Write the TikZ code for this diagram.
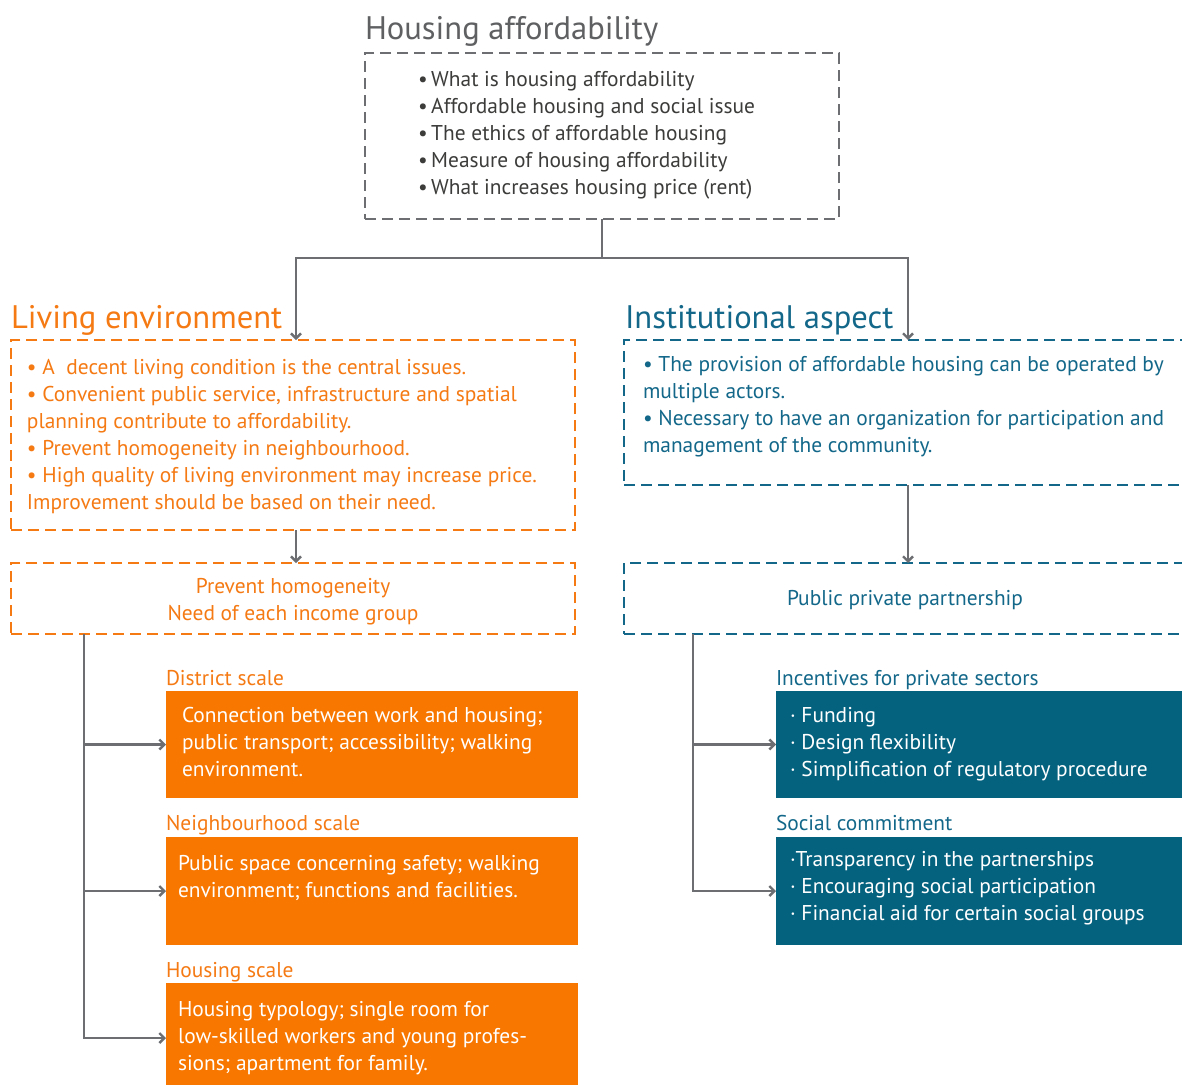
\documentclass[tikz,border=0pt]{standalone}
\usepackage{fontspec}
\setmainfont{PT Sans}
\usetikzlibrary{arrows.meta,positioning}
\definecolor{hagray}{HTML}{5F6062}
\definecolor{hatext}{HTML}{3C3C3B}
\definecolor{lnkgray}{HTML}{6D6E71}
\definecolor{livorange}{HTML}{F57A14}
\definecolor{orfill}{HTML}{F77700}
\definecolor{instteal}{HTML}{13688A}
\definecolor{tefill}{HTML}{05627F}

\begin{document}
\begin{tikzpicture}[x=1pt,y=-1pt,
    every node/.style={inner sep=0pt,outer sep=0pt},
    body/.style={font=\fontsize{21.4}{27}\selectfont,align=left},
    head/.style={font=\fontsize{32.6}{36}\selectfont},
    dbox/.style={draw=#1,line width=2.8pt,dash pattern=on 11pt off 6pt},
    conn/.style={draw=lnkgray,line width=2.4pt},
    tip/.style={conn,-{Straight Barb[length=5pt,width=10pt]}}]
    \clip (0,0) rectangle (1182,1084);
    \fill[white] (0,0) rectangle (1182,1084);

    % base anchors sit on the last line of each block
    \node[head,text=hagray,anchor=base west] (hatitle) at (365,39) {Housing affordability};
    \node[dbox=lnkgray,minimum width=474pt,minimum height=166pt,anchor=north west] (ha) at (365,53) {};
    \node[body,text=hatext,anchor=base west] (hapts) at (418,194) {•\,What is housing affordability\\•\,Affordable housing and social issue\\•\,The ethics of affordable housing\\•\,Measure of housing affordability\\•\,What increases housing price (rent)};

    \node[head,text=livorange,anchor=base west] (letitle) at (11,328) {Living environment};
    \node[dbox=livorange,minimum width=564pt,minimum height=190pt,anchor=north west] (le) at (11,340) {};
    \node[body,text=livorange,anchor=base west] (lepts) at (27,509) {• A\ \ decent living condition is the central issues.\\• Convenient public service, infrastructure and spatial\\planning contribute to affordability.\\• Prevent homogeneity in neighbourhood.\\• High quality of living environment may increase price.\\Improvement should be based on their need.};
    \node[dbox=livorange,minimum width=564pt,minimum height=71pt,anchor=north west] (ph) at (11,563) {};
    \node[body,text=livorange,align=center,anchor=base] (phtext) at (293,620) {Prevent homogeneity\\Need of each income group};

    \node[fill=orfill,minimum width=412pt,minimum height=107pt,anchor=north west] (district) at (166,691) {};
    \node[body,text=livorange,anchor=base west] (districtlbl) at (166,685) {District scale};
    \node[body,text=white,anchor=base west] (districttext) at (182,776) {Connection between work and housing;\\public transport; accessibility; walking\\environment.};
    \node[fill=orfill,minimum width=412pt,minimum height=108pt,anchor=north west] (neigh) at (166,837) {};
    \node[body,text=livorange,anchor=base west] (neighlbl) at (166,830) {Neighbourhood scale};
    \node[body,text=white,anchor=base west] (neightext) at (178,897) {Public space concerning safety; walking\\environment; functions and facilities.};
    \node[fill=orfill,minimum width=412pt,minimum height=110pt,anchor=north west] (housing) at (166,983) {};
    \node[body,text=livorange,anchor=base west] (housinglbl) at (166,977) {Housing scale};
    \node[body,text=white,anchor=base west] (housingtext) at (178,1070) {Housing typology; single room for\\low-skilled workers and young profes-\\sions; apartment for family.};

    \node[head,text=instteal,anchor=base west] (iatitle) at (625,328) {Institutional aspect};
    \node[dbox=instteal,minimum width=568pt,minimum height=145pt,anchor=north west] (ia) at (624,340) {};
    \node[body,text=instteal,anchor=base west] (iapts) at (643,452) {• The provision of affordable housing can be operated by\\multiple actors.\\• Necessary to have an organization for participation and\\management of the community.};
    \node[dbox=instteal,minimum width=568pt,minimum height=71pt,anchor=north west] (ppp) at (624,563) {};
    \node[body,text=instteal,anchor=base] (ppptext) at (905,605) {Public private partnership};

    \node[fill=tefill,minimum width=420pt,minimum height=107pt,anchor=north west] (incent) at (776,691) {};
    \node[body,text=instteal,anchor=base west] (incentlbl) at (776,685) {Incentives for private sectors};
    \node[body,text=white,anchor=base west] (incenttext) at (790,776) {· Funding\\· Design flexibility\\· Simplification of regulatory procedure};
    \node[fill=tefill,minimum width=420pt,minimum height=108pt,anchor=north west] (social) at (776,837) {};
    \node[body,text=instteal,anchor=base west] (sociallbl) at (776,830) {Social commitment};
    \node[body,text=white,anchor=base west] (socialtext) at (790,920) {·Transparency in the partnerships\\· Encouraging social participation\\· Financial aid for certain social groups};

    \coordinate (split) at (602,258);
    \coordinate (leentry) at ([xshift=3pt]le.north);
    \draw[conn] (ha.south) -- (split);
    \draw[tip] (split) -| (leentry);
    \draw[tip] (split) -| (ia.north);
    \draw[tip] (le.south -| leentry) -- (ph.north -| leentry);
    \draw[tip] (ia.south) -- (ppp.north);

    \coordinate (ltrunk) at ([xshift=73pt]ph.south west);
    \draw[tip] (ltrunk) |- (housing.west);
    \foreach \b in {district,neigh}
        \draw[tip] (ltrunk |- \b.west) -- (\b.west);
    \coordinate (rtrunk) at ([xshift=69pt]ppp.south west);
    \draw[tip] (rtrunk) |- (social.west);
    \draw[tip] (rtrunk |- incent.west) -- (incent.west);
\end{tikzpicture}
\end{document}
